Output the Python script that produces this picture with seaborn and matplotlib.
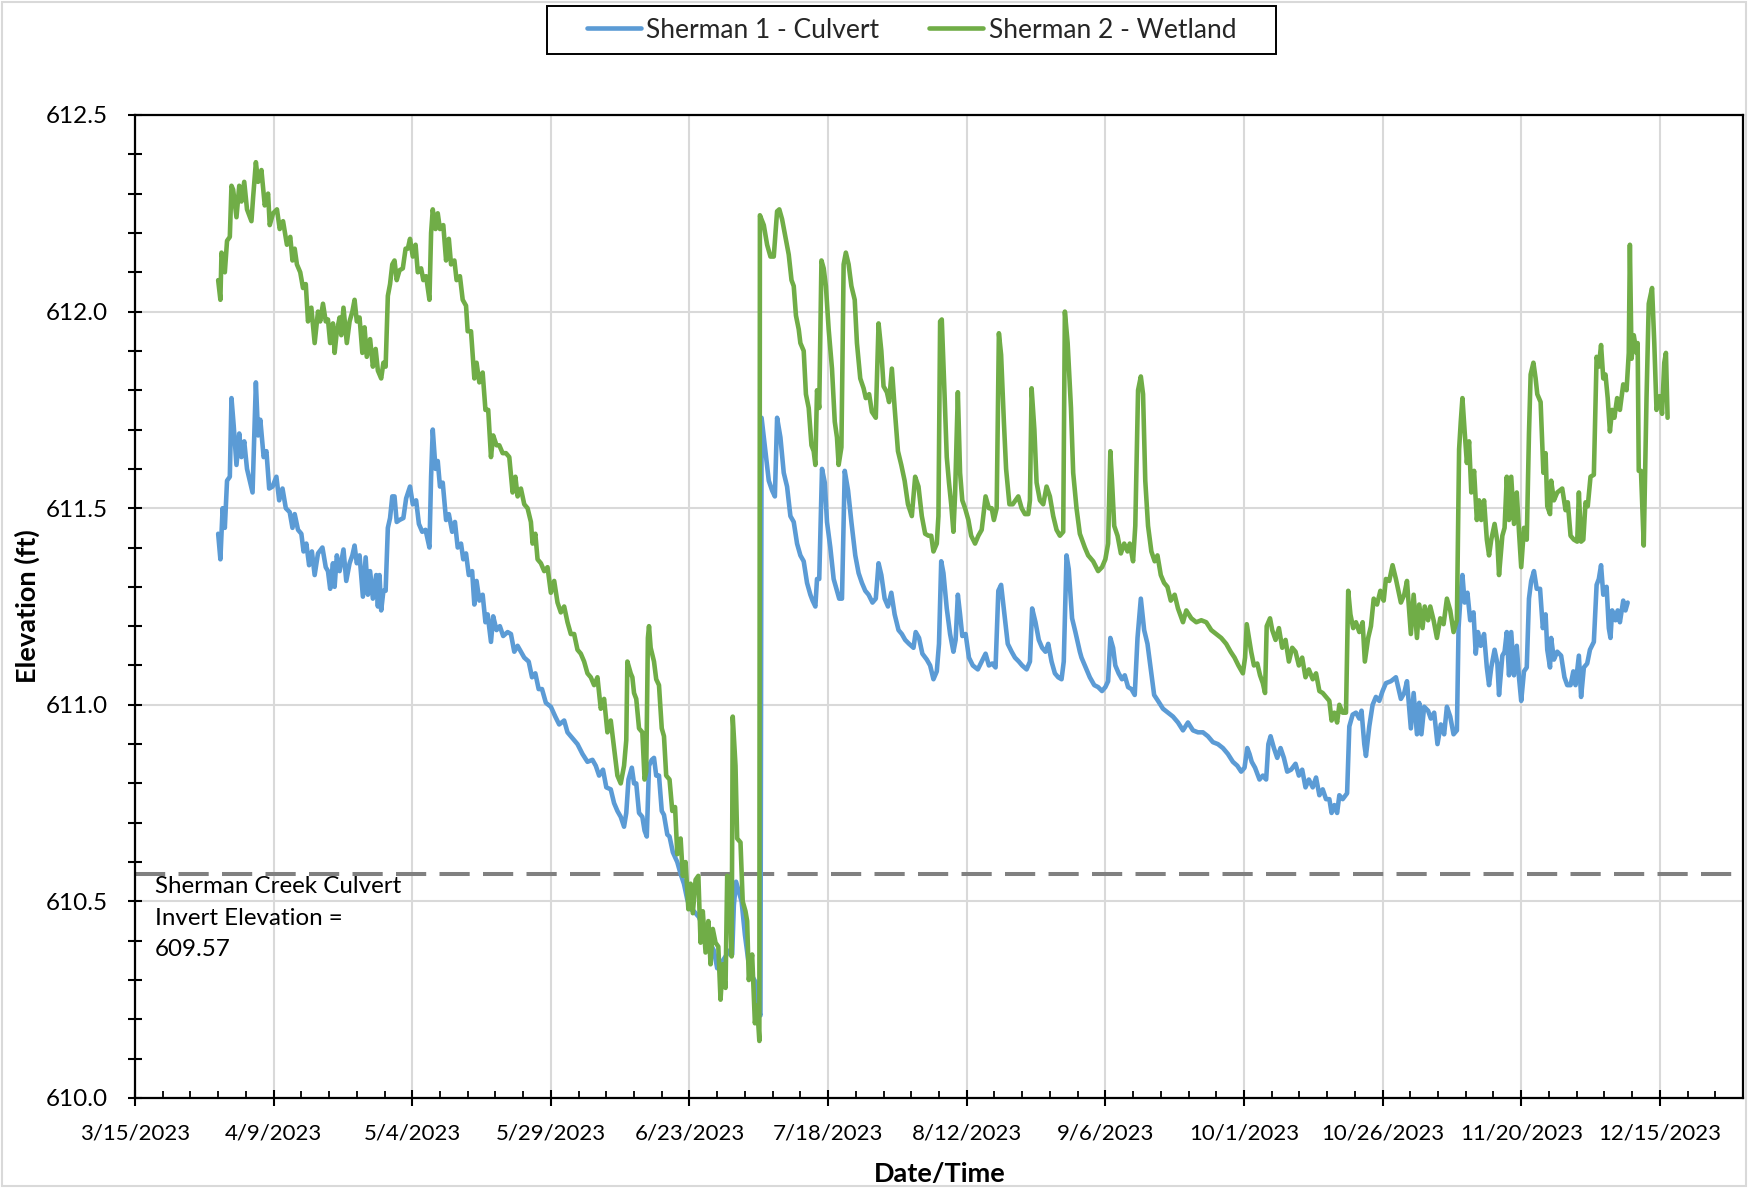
import matplotlib
matplotlib.use("Agg")
import numpy as np
import pandas as pd
import matplotlib.pyplot as plt
import matplotlib.dates as mdates
from matplotlib.ticker import MultipleLocator, FixedLocator, FixedFormatter
from matplotlib.patches import Rectangle
from matplotlib.lines import Line2D
import seaborn as sns

# ---------------- data ----------------
start_date = "2023-03-15"
series_names = ["Sherman 1 - Culvert", "Sherman 2 - Wetland"]
series_colors = ["#5B9BD5", "#70AD47"]
x_tick_labels = ["3/15/2023", "4/9/2023", "5/4/2023", "5/29/2023", "6/23/2023",
                 "7/18/2023", "8/12/2023", "9/6/2023", "10/1/2023", "10/26/2023",
                 "11/20/2023", "12/15/2023"]
x_end_date = "2023-12-30"
y_ticks = [610.0, 610.5, 611.0, 611.5, 612.0, 612.5]
invert_line = 610.57
invert_text = "Sherman Creek Culvert\nInvert Elevation =\n609.57"

# days after 3/15/2023
blue_day = [15.0, 15.4, 15.8, 16.2, 16.6, 17.1, 17.4, 17.8, 18.3, 18.8, 19.2, 19.7, 20.2, 20.7, 21.2, 21.8, 22.2, 22.6, 23.2, 23.7,
            24.2, 24.8, 25.5, 26.0, 26.6, 27.2, 27.9, 28.4, 28.8, 29.4, 30.0, 30.4, 30.9, 31.4, 31.9, 32.4, 33.0, 33.8, 34.4, 34.8,
            35.2, 35.7, 36.0, 36.4, 36.9, 37.6, 38.1, 38.7, 39.2, 39.6, 40.0, 40.5, 41.1, 41.6, 42.0, 42.4, 42.9, 43.5, 43.8, 44.1,
            44.4, 44.8, 45.2, 45.6, 46.0, 46.4, 46.8, 47.2, 47.7, 48.4, 48.9, 49.6, 50.1, 50.7, 51.2, 51.8, 52.4, 53.1, 53.4, 53.7,
            54.2, 54.6, 55.0, 55.5, 56.1, 56.6, 57.2, 57.7, 58.2, 58.8, 59.2, 59.7, 60.2, 60.8, 61.2, 61.6, 62.1, 62.7, 63.2, 63.6,
            64.2, 64.6, 65.2, 65.8, 66.4, 67.2, 67.8, 68.4, 69.0, 69.6, 70.2, 71.0, 71.6, 72.2, 72.8, 73.4, 74.1, 75.0, 75.8, 76.5,
            77.4, 78.0, 78.9, 79.8, 80.7, 81.6, 82.5, 83.1, 83.7, 84.4, 85.0, 85.8, 86.4, 87.0, 87.6, 88.2, 88.6, 89.0, 89.6, 90.0,
            90.4, 90.9, 91.5, 91.9, 92.3, 92.7, 93.2, 93.6, 94.0, 94.5, 95.0, 95.4, 96.0, 96.4, 97.0, 97.8, 98.4, 99.0, 99.6, 100.2,
            100.8, 101.7, 102.6, 103.5, 104.4, 105.0, 105.8, 106.5, 107.2, 107.7, 108.0, 108.4, 108.9, 109.4, 110.0, 110.6, 111.3, 111.9, 112.3, 112.8,
            113.0, 113.7, 114.3, 114.9, 115.4, 115.8, 116.4, 117.0, 117.6, 118.2, 118.8, 119.4, 120.0, 120.6, 121.2, 121.8, 122.2, 122.7, 123.0, 123.4,
            123.9, 124.4, 124.8, 125.4, 126.0, 126.6, 127.0, 127.5, 128.0, 128.6, 129.2, 129.9, 130.5, 131.1, 131.7, 132.3, 133.0, 133.6, 134.1, 134.6,
            135.2, 135.8, 136.4, 137.0, 137.7, 138.3, 138.9, 139.6, 140.4, 140.8, 141.4, 142.0, 142.8, 143.4, 144.0, 144.6, 145.0, 145.4, 145.8, 146.4,
            147.0, 147.6, 148.0, 148.4, 148.8, 149.2, 149.8, 150.4, 151.1, 152.0, 152.7, 153.4, 154.0, 154.6, 155.2, 155.7, 156.2, 156.8, 157.4, 158.1,
            158.7, 159.4, 160.0, 160.8, 161.4, 161.8, 162.4, 163.0, 163.6, 164.2, 164.7, 165.3, 165.9, 166.5, 167.1, 167.5, 168.0, 168.4, 169.0, 169.6,
            170.4, 170.7, 171.3, 172.2, 173.0, 173.7, 174.4, 175.0, 175.5, 175.9, 176.4, 176.8, 177.4, 178.0, 178.5, 179.1, 179.7, 180.3, 180.8, 181.4,
            182.0, 182.6, 183.2, 183.8, 184.5, 185.4, 186.3, 187.2, 188.1, 189.0, 189.9, 190.8, 191.7, 192.6, 193.5, 194.4, 195.3, 196.2, 197.1, 198.0,
            198.8, 199.5, 200.1, 200.6, 201.0, 201.4, 202.0, 202.8, 203.4, 204.0, 204.4, 204.8, 205.4, 206.0, 206.6, 207.2, 207.8, 208.5, 209.3, 209.9,
            210.5, 211.1, 211.7, 212.4, 213.0, 213.6, 214.2, 214.8, 215.4, 215.8, 216.3, 216.8, 217.2, 217.8, 218.6, 219.0, 219.6, 220.2, 220.8, 221.2,
            221.7, 222.0, 222.6, 223.2, 223.8, 224.4, 225.0, 225.6, 226.5, 227.4, 228.3, 228.9, 229.4, 230.1, 230.6, 231.2, 231.6, 232.0, 232.5, 233.2,
            233.7, 234.3, 234.9, 235.5, 236.1, 236.6, 237.2, 237.8, 238.4, 238.7, 239.1, 239.4, 239.8, 240.3, 240.8, 241.4, 241.8, 242.2, 242.7, 243.3,
            243.8, 244.2, 244.6, 245.2, 245.7, 246.0, 246.6, 247.0, 247.4, 247.8, 248.2, 248.7, 249.2, 249.6, 250.0, 250.5, 251.0, 251.4, 251.8, 252.3,
            252.8, 253.4, 253.9, 254.4, 254.7, 255.2, 255.4, 255.9, 256.5, 257.2, 257.8, 258.3, 258.9, 259.4, 259.8, 260.4, 260.8, 261.3, 261.9, 262.4,
            263.1, 263.6, 264.0, 264.4, 264.8, 265.4, 265.8, 266.1, 266.4, 267.0, 267.4, 267.8, 268.4, 268.8, 269.2]
blue_val = [611.435, 611.37, 611.50, 611.45, 611.57, 611.58, 611.78, 611.71, 611.61, 611.69, 611.63, 611.67, 611.60, 611.57, 611.54, 611.82, 611.685, 611.725, 611.63, 611.645,
            611.55, 611.555, 611.58, 611.52, 611.55, 611.50, 611.49, 611.45, 611.485, 611.445, 611.435, 611.39, 611.41, 611.355, 611.39, 611.33, 611.385, 611.40, 611.35, 611.34,
            611.295, 611.36, 611.30, 611.38, 611.34, 611.395, 611.315, 611.36, 611.38, 611.405, 611.36, 611.38, 611.275, 611.375, 611.28, 611.34, 611.27, 611.33, 611.25, 611.33,
            611.24, 611.29, 611.29, 611.45, 611.475, 611.53, 611.53, 611.465, 611.47, 611.475, 611.525, 611.555, 611.51, 611.52, 611.46, 611.44, 611.445, 611.40, 611.58, 611.70,
            611.60, 611.62, 611.555, 611.565, 611.47, 611.485, 611.44, 611.465, 611.40, 611.41, 611.37, 611.385, 611.33, 611.34, 611.255, 611.315, 611.265, 611.28, 611.21, 611.23,
            611.16, 611.225, 611.19, 611.20, 611.175, 611.185, 611.18, 611.135, 611.15, 611.135, 611.12, 611.11, 611.07, 611.08, 611.04, 611.04, 611.005, 610.995, 610.97, 610.95,
            610.96, 610.93, 610.915, 610.90, 610.875, 610.855, 610.86, 610.845, 610.82, 610.835, 610.79, 610.785, 610.75, 610.73, 610.715, 610.69, 610.725, 610.81, 610.84, 610.80,
            610.80, 610.725, 610.715, 610.68, 610.665, 610.845, 610.86, 610.865, 610.82, 610.82, 610.73, 610.72, 610.67, 610.665, 610.625, 610.60, 610.57, 610.545, 610.505, 610.48,
            610.475, 610.46, 610.43, 610.40, 610.375, 610.33, 610.345, 610.36, 610.375, 610.365, 610.49, 610.55, 610.525, 610.50, 610.415, 610.35, 610.31, 610.295, 610.225, 610.21,
            611.73, 611.645, 611.57, 611.545, 611.53, 611.73, 611.68, 611.59, 611.555, 611.48, 611.465, 611.41, 611.38, 611.365, 611.31, 611.28, 611.265, 611.25, 611.32, 611.32,
            611.60, 611.565, 611.465, 611.40, 611.32, 611.29, 611.27, 611.27, 611.595, 611.545, 611.465, 611.38, 611.335, 611.31, 611.29, 611.28, 611.26, 611.27, 611.36, 611.33,
            611.27, 611.25, 611.285, 611.23, 611.19, 611.18, 611.165, 611.155, 611.145, 611.185, 611.17, 611.13, 611.115, 611.10, 611.065, 611.085, 611.155, 611.365, 611.335, 611.245,
            611.18, 611.135, 611.165, 611.28, 611.23, 611.175, 611.18, 611.12, 611.10, 611.09, 611.11, 611.13, 611.10, 611.105, 611.095, 611.29, 611.305, 611.23, 611.155, 611.135,
            611.12, 611.11, 611.10, 611.09, 611.11, 611.245, 611.21, 611.165, 611.145, 611.135, 611.155, 611.11, 611.08, 611.07, 611.065, 611.11, 611.38, 611.345, 611.22, 611.185,
            611.135, 611.12, 611.10, 611.07, 611.05, 611.045, 611.035, 611.045, 611.06, 611.17, 611.145, 611.10, 611.08, 611.065, 611.075, 611.045, 611.04, 611.025, 611.17, 611.27,
            611.19, 611.155, 611.09, 611.025, 611.01, 610.99, 610.98, 610.97, 610.955, 610.935, 610.955, 610.935, 610.93, 610.93, 610.92, 610.905, 610.90, 610.89, 610.875, 610.855,
            610.845, 610.83, 610.84, 610.89, 610.875, 610.855, 610.84, 610.81, 610.82, 610.81, 610.90, 610.92, 610.89, 610.865, 610.89, 610.865, 610.83, 610.835, 610.85, 610.82,
            610.835, 610.79, 610.81, 610.79, 610.815, 610.77, 610.785, 610.76, 610.76, 610.725, 610.745, 610.725, 610.77, 610.76, 610.775, 610.945, 610.975, 610.98, 610.965, 610.985,
            610.90, 610.87, 610.945, 611.00, 611.02, 611.01, 611.035, 611.055, 611.06, 611.07, 611.015, 611.03, 611.06, 610.94, 611.03, 610.925, 611.005, 610.925, 610.995, 610.985,
            610.965, 610.98, 610.90, 610.95, 610.925, 610.995, 610.97, 610.925, 610.935, 611.195, 611.285, 611.33, 611.26, 611.285, 611.215, 611.235, 611.13, 611.185, 611.15, 611.18,
            611.095, 611.05, 611.095, 611.14, 611.105, 611.025, 611.125, 611.135, 611.185, 611.075, 611.185, 611.075, 611.15, 611.07, 611.01, 611.085, 611.095, 611.27, 611.315, 611.34,
            611.295, 611.295, 611.195, 611.23, 611.14, 611.095, 611.17, 611.115, 611.135, 611.125, 611.07, 611.05, 611.05, 611.085, 611.05, 611.125, 611.02, 611.095, 611.105, 611.14,
            611.16, 611.305, 611.32, 611.355, 611.28, 611.30, 611.195, 611.17, 611.24, 611.215, 611.24, 611.21, 611.265, 611.24, 611.26]

green_day = [15.0, 15.4, 15.6, 16.2, 16.6, 17.1, 17.4, 17.7, 18.3, 18.8, 19.2, 19.7, 20.2, 21.0, 21.3, 21.8, 22.2, 22.8, 23.4, 24.0,
             24.3, 24.9, 25.6, 26.1, 26.7, 27.4, 28.0, 28.4, 28.8, 29.2, 29.8, 30.3, 30.8, 31.2, 31.8, 32.4, 33.0, 33.4, 33.9, 34.4,
             34.8, 35.2, 35.7, 36.0, 36.4, 36.9, 37.2, 37.6, 38.2, 38.7, 39.2, 39.6, 40.0, 40.5, 41.0, 41.4, 41.8, 42.4, 42.9, 43.4,
             43.8, 44.4, 44.8, 45.2, 45.6, 46.0, 46.4, 46.8, 47.2, 47.7, 48.3, 48.8, 49.2, 49.6, 50.1, 50.6, 51.0, 51.6, 52.0, 52.5,
             53.1, 53.4, 53.7, 54.2, 54.6, 55.0, 55.6, 56.1, 56.6, 57.0, 57.6, 58.0, 58.6, 59.1, 59.7, 60.0, 60.6, 61.2, 61.6, 62.1,
             62.7, 63.2, 63.7, 64.2, 64.6, 65.2, 65.7, 66.3, 66.9, 67.5, 68.1, 68.6, 69.0, 69.6, 70.2, 70.8, 71.4, 71.7, 72.2, 72.6,
             73.2, 73.8, 74.4, 75.0, 75.6, 76.2, 76.8, 77.4, 78.0, 78.6, 79.2, 79.8, 80.4, 81.0, 81.6, 82.2, 82.8, 83.4, 84.0, 84.6,
             85.2, 85.8, 86.4, 87.0, 87.6, 88.2, 88.6, 88.8, 89.4, 89.7, 90.0, 90.4, 90.9, 91.5, 91.9, 92.2, 92.5, 92.7, 93.0, 93.6,
             94.0, 94.5, 95.0, 95.4, 95.8, 96.4, 96.9, 97.4, 97.8, 98.4, 98.8, 99.3, 99.8, 100.2, 100.6, 101.1, 101.6, 102.0, 102.4, 102.9,
             103.4, 103.8, 104.2, 104.7, 105.2, 105.6, 106.0, 106.5, 106.8, 107.2, 107.6, 107.8, 108.3, 108.6, 109.2, 109.6, 110.1, 110.4, 110.7, 111.3,
             111.8, 112.2, 112.6, 112.7, 113.4, 114.0, 114.6, 115.2, 115.8, 116.2, 116.7, 117.3, 117.9, 118.4, 118.8, 119.2, 119.7, 120.0, 120.6, 121.0,
             121.5, 122.0, 122.4, 122.7, 123.0, 123.4, 123.8, 124.2, 124.6, 125.1, 125.7, 126.2, 126.6, 126.9, 127.4, 127.8, 128.2, 128.7, 129.2, 129.8,
             130.2, 130.8, 131.4, 131.8, 132.4, 132.9, 133.6, 134.1, 134.6, 135.0, 135.6, 136.0, 136.5, 137.0, 137.6, 138.2, 138.8, 139.4, 140.1, 140.7,
             141.3, 141.9, 142.5, 143.1, 143.6, 144.0, 144.6, 144.9, 145.2, 145.5, 146.0, 146.4, 146.8, 147.2, 147.6, 147.9, 148.4, 148.8, 149.2, 149.7,
             150.3, 150.8, 151.5, 152.1, 152.7, 153.4, 154.0, 154.5, 154.9, 155.4, 155.8, 156.2, 156.7, 157.1, 157.7, 158.3, 159.3, 159.9, 160.5, 161.1,
             161.4, 161.7, 162.2, 162.6, 163.2, 163.8, 164.4, 165.0, 165.6, 166.2, 166.8, 167.4, 167.7, 168.2, 168.8, 169.2, 169.8, 170.4, 171.3, 171.9,
             172.8, 173.7, 174.4, 175.0, 175.5, 175.9, 176.2, 176.6, 177.2, 177.8, 178.4, 179.0, 179.4, 180.0, 180.4, 180.9, 181.4, 181.8, 182.2, 182.7,
             183.3, 183.9, 184.4, 185.0, 185.6, 186.2, 186.8, 187.5, 188.1, 189.0, 189.6, 190.5, 191.4, 192.3, 193.2, 194.1, 195.0, 195.9, 196.8, 197.6,
             198.3, 199.0, 199.8, 200.2, 200.5, 200.9, 201.3, 201.8, 202.4, 202.9, 203.4, 203.8, 204.1, 204.7, 205.1, 205.7, 206.3, 206.9, 207.5, 208.1,
             208.7, 209.3, 209.9, 210.5, 211.1, 211.7, 212.4, 213.0, 213.6, 214.2, 214.8, 215.4, 215.8, 216.3, 216.8, 217.2, 217.8, 218.4, 218.8, 219.2,
             219.7, 220.2, 220.8, 221.4, 221.8, 222.4, 222.9, 223.4, 224.0, 224.6, 225.2, 225.6, 226.2, 226.8, 227.4, 228.3, 228.9, 229.4, 230.1, 230.6,
             231.2, 231.6, 232.2, 232.6, 233.2, 233.6, 234.2, 234.8, 235.4, 236.0, 236.6, 237.2, 237.8, 238.4, 238.8, 239.1, 239.4, 239.8, 240.2, 240.6,
             241.0, 241.5, 242.0, 242.4, 242.8, 243.3, 243.8, 244.2, 244.6, 245.2, 245.7, 246.0, 246.6, 247.0, 247.4, 247.8, 248.2, 248.7, 249.2, 249.6,
             250.0, 250.5, 251.0, 251.4, 251.7, 252.2, 252.6, 252.9, 253.5, 254.0, 254.4, 254.7, 255.2, 255.4, 255.9, 256.5, 257.4, 258.0, 258.4, 258.9,
             259.5, 260.1, 260.4, 260.8, 261.2, 261.6, 262.0, 262.5, 263.1, 263.6, 264.0, 264.4, 264.8, 265.2, 265.6, 266.0, 266.4, 266.8, 267.3, 267.8,
             268.4, 269.0, 269.4, 269.6, 269.9, 270.3, 270.8, 271.0, 271.2, 271.6, 272.1, 272.6, 273.0, 273.6, 274.0, 274.4, 275.0, 275.4, 275.8, 276.1,
             276.4]
green_val = [612.08, 612.03, 612.15, 612.10, 612.18, 612.19, 612.32, 612.31, 612.24, 612.32, 612.28, 612.33, 612.26, 612.23, 612.29, 612.38, 612.33, 612.36, 612.27, 612.30,
             612.22, 612.25, 612.26, 612.21, 612.23, 612.17, 612.19, 612.13, 612.16, 612.12, 612.10, 612.06, 612.07, 611.975, 612.01, 611.92, 612.00, 611.975, 612.02, 611.975,
             611.98, 611.92, 611.97, 611.895, 611.95, 611.985, 611.94, 612.01, 611.92, 611.975, 612.00, 612.03, 611.975, 611.985, 611.895, 611.96, 611.885, 611.93, 611.86, 611.905,
             611.85, 611.83, 611.87, 611.86, 612.04, 612.07, 612.12, 612.13, 612.08, 612.105, 612.11, 612.16, 612.16, 612.185, 612.14, 612.17, 612.10, 612.11, 612.08, 612.09,
             612.03, 612.20, 612.26, 612.21, 612.25, 612.21, 612.22, 612.13, 612.185, 612.12, 612.13, 612.08, 612.09, 612.03, 612.015, 611.95, 611.95, 611.83, 611.87, 611.82,
             611.845, 611.75, 611.75, 611.63, 611.685, 611.66, 611.66, 611.64, 611.64, 611.63, 611.54, 611.58, 611.53, 611.55, 611.51, 611.50, 611.465, 611.41, 611.435, 611.37,
             611.36, 611.34, 611.35, 611.285, 611.315, 611.26, 611.235, 611.25, 611.21, 611.18, 611.18, 611.14, 611.13, 611.11, 611.08, 611.07, 611.05, 611.07, 610.99, 611.015,
             610.93, 610.96, 610.89, 610.82, 610.80, 610.845, 610.91, 611.11, 611.08, 611.07, 611.03, 611.015, 610.94, 610.93, 610.81, 610.83, 611.17, 611.20, 611.145, 611.11,
             611.065, 611.05, 610.94, 610.92, 610.82, 610.81, 610.73, 610.74, 610.62, 610.66, 610.565, 610.60, 610.48, 610.545, 610.47, 610.555, 610.565, 610.395, 610.475, 610.37,
             610.45, 610.34, 610.43, 610.395, 610.385, 610.25, 610.34, 610.28, 610.565, 610.555, 610.36, 610.97, 610.845, 610.66, 610.65, 610.50, 610.475, 610.45, 610.30, 610.365,
             610.19, 610.235, 610.145, 612.245, 612.22, 612.17, 612.14, 612.14, 612.255, 612.26, 612.235, 612.19, 612.145, 612.08, 612.065, 611.99, 611.955, 611.92, 611.90, 611.79,
             611.755, 611.66, 611.645, 611.61, 611.80, 611.755, 612.13, 612.11, 612.065, 611.955, 611.855, 611.72, 611.68, 611.61, 611.655, 612.12, 612.15, 612.12, 612.065, 612.03,
             611.92, 611.83, 611.805, 611.78, 611.79, 611.745, 611.73, 611.97, 611.90, 611.81, 611.795, 611.77, 611.855, 611.755, 611.645, 611.61, 611.57, 611.51, 611.48, 611.58,
             611.555, 611.48, 611.435, 611.43, 611.43, 611.39, 611.41, 611.48, 611.975, 611.98, 611.79, 611.63, 611.565, 611.51, 611.44, 611.535, 611.795, 611.59, 611.52, 611.50,
             611.47, 611.43, 611.41, 611.43, 611.445, 611.53, 611.50, 611.50, 611.47, 611.50, 611.945, 611.89, 611.72, 611.60, 611.51, 611.51, 611.53, 611.50, 611.485, 611.485,
             611.52, 611.805, 611.70, 611.565, 611.52, 611.51, 611.555, 611.53, 611.48, 611.445, 611.43, 611.44, 612.00, 611.92, 611.755, 611.59, 611.50, 611.435, 611.40, 611.38,
             611.365, 611.34, 611.35, 611.37, 611.41, 611.645, 611.57, 611.455, 611.43, 611.385, 611.41, 611.39, 611.41, 611.365, 611.455, 611.80, 611.835, 611.79, 611.57, 611.455,
             611.39, 611.365, 611.38, 611.33, 611.31, 611.30, 611.265, 611.28, 611.245, 611.21, 611.24, 611.22, 611.21, 611.215, 611.21, 611.19, 611.18, 611.17, 611.155, 611.135,
             611.12, 611.10, 611.08, 611.12, 611.205, 611.17, 611.135, 611.10, 611.105, 611.075, 611.055, 611.03, 611.20, 611.22, 611.19, 611.165, 611.195, 611.145, 611.165, 611.11,
             611.145, 611.135, 611.10, 611.12, 611.07, 611.09, 611.065, 611.08, 611.035, 611.03, 611.02, 611.01, 610.96, 610.98, 610.955, 611.00, 610.98, 610.98, 611.29, 611.23,
             611.195, 611.21, 611.185, 611.21, 611.11, 611.17, 611.20, 611.27, 611.255, 611.29, 611.265, 611.32, 611.315, 611.355, 611.32, 611.26, 611.28, 611.315, 611.18, 611.28,
             611.17, 611.255, 611.195, 611.25, 611.215, 611.25, 611.215, 611.17, 611.22, 611.205, 611.27, 611.24, 611.185, 611.215, 611.65, 611.72, 611.78, 611.695, 611.615, 611.67,
             611.54, 611.595, 611.47, 611.52, 611.47, 611.52, 611.42, 611.38, 611.42, 611.46, 611.415, 611.33, 611.43, 611.45, 611.58, 611.47, 611.58, 611.46, 611.54, 611.44,
             611.35, 611.45, 611.42, 611.69, 611.84, 611.87, 611.83, 611.79, 611.77, 611.59, 611.64, 611.505, 611.485, 611.57, 611.52, 611.54, 611.55, 611.495, 611.515, 611.43,
             611.42, 611.415, 611.54, 611.415, 611.42, 611.515, 611.505, 611.58, 611.585, 611.885, 611.86, 611.915, 611.83, 611.84, 611.78, 611.695, 611.75, 611.73, 611.78, 611.75,
             611.815, 611.80, 611.895, 612.17, 611.88, 611.94, 611.895, 611.92, 611.595, 611.595, 611.405, 611.78, 612.02, 612.06, 611.92, 611.75, 611.785, 611.74, 611.87, 611.895,
             611.73]

# ---------------- build table ----------------
t0 = pd.Timestamp(start_date)
df = pd.concat([
    pd.DataFrame({"date": t0 + pd.to_timedelta(blue_day, unit="D"), "elev": blue_val, "series": series_names[0]}),
    pd.DataFrame({"date": t0 + pd.to_timedelta(green_day, unit="D"), "elev": green_val, "series": series_names[1]}),
], ignore_index=True)

# ---------------- figure ----------------
sns.set_theme(style="white")
plt.rcParams["font.family"] = ["Lato", "DejaVu Sans"]
FS_X = 16
FS_Y = 17.5
FS_LEG = 19
FS_LAB = 19.5
FS_ANN = 17.4

W, H = 1748, 1188
fig = plt.figure(figsize=(W / 100, H / 100), dpi=100)
L, R, T, B = 135, 1743, 115, 1098
ax = fig.add_axes([L / W, 1 - B / H, (R - L) / W, (B - T) / H])

ax.axhline(invert_line, color="#808080", lw=2.9, dashes=(7.5, 3.3), zorder=1.5)

sns.lineplot(data=df, x="date", y="elev", hue="series", hue_order=series_names,
             palette=series_colors, estimator=None, sort=False, linewidth=3.3,
             legend=False, ax=ax, zorder=3)

# axes ranges / ticks
ax.set_ylim(y_ticks[0], y_ticks[-1])
ax.set_xlim(t0, pd.Timestamp(x_end_date))
ax.yaxis.set_major_locator(FixedLocator(y_ticks))
ax.yaxis.set_minor_locator(MultipleLocator(0.1))
ax.set_yticklabels([f"{v:.1f}" for v in y_ticks])

tick_dates = mdates.date2num(pd.to_datetime(x_tick_labels, format="%m/%d/%Y"))
ax.xaxis.set_major_locator(FixedLocator(tick_dates))
ax.xaxis.set_major_formatter(FixedFormatter(x_tick_labels))
xmin, xmax = ax.get_xlim()
ax.xaxis.set_minor_locator(FixedLocator(np.arange(xmin, xmax + 0.1, 5)))

ax.grid(which="major", color="#d9d9d9", lw=1.5, zorder=0)
ax.set_axisbelow(True)
for s in ax.spines.values():
    s.set_visible(True)
    s.set_color("black")
    s.set_linewidth(1.6)

ax.tick_params(axis="y", which="both", direction="inout", length=10, width=1.5,
               color="black", left=True, labelsize=FS_Y, pad=14.5, labelcolor="black")
ax.tick_params(axis="x", which="major", direction="inout", length=12, width=1.5,
               color="black", bottom=True, labelsize=FS_X, pad=12, labelcolor="black")
ax.tick_params(axis="x", which="minor", direction="in", length=5, width=1.3,
               color="black", bottom=True)

ax.set_xlabel("Date/Time", fontsize=FS_LAB, fontweight="bold", color="black")
ax.set_ylabel("Elevation (ft)", fontsize=FS_LAB, fontweight="bold", color="black")
ax.xaxis.set_label_coords((940 - L) / (R - L), -(1174 - B) / (B - T))
ax.xaxis.label.set_verticalalignment("center")
ax.yaxis.set_label_coords(-(L - 27) / (R - L), 0.5)
ax.yaxis.label.set_verticalalignment("center")

# annotation
ax.text((155 - L) / (R - L), (B - 876) / (B - T), invert_text, transform=ax.transAxes,
        ha="left", va="top", fontsize=FS_ANN, linespacing=1.62, color="black", zorder=4)

# legend (frame drawn as a rectangle in figure coords)
handles = [Line2D([], [], color=c, lw=3.3) for c in series_colors]
fig.legend(handles, series_names, loc="center", ncol=2, frameon=False,
           bbox_to_anchor=(((547 + 1276) / 2) / W, 1 - 30 / H), bbox_transform=fig.transFigure,
           fontsize=FS_LEG, handlelength=2.05, handletextpad=0.2, columnspacing=1.9)
fig.patches.append(Rectangle((547 / W, 1 - 54 / H), (1276 - 547) / W, 48 / H,
                             transform=fig.transFigure, fill=False, edgecolor="black", lw=1.4))
# chart-area border
fig.patches.append(Rectangle((2 / W, 2 / H), 1 - 4 / W, 1 - 4 / H, transform=fig.transFigure,
                             fill=False, edgecolor="#d9d9d9", lw=1.5))

fig.savefig("out.png", dpi=100)
